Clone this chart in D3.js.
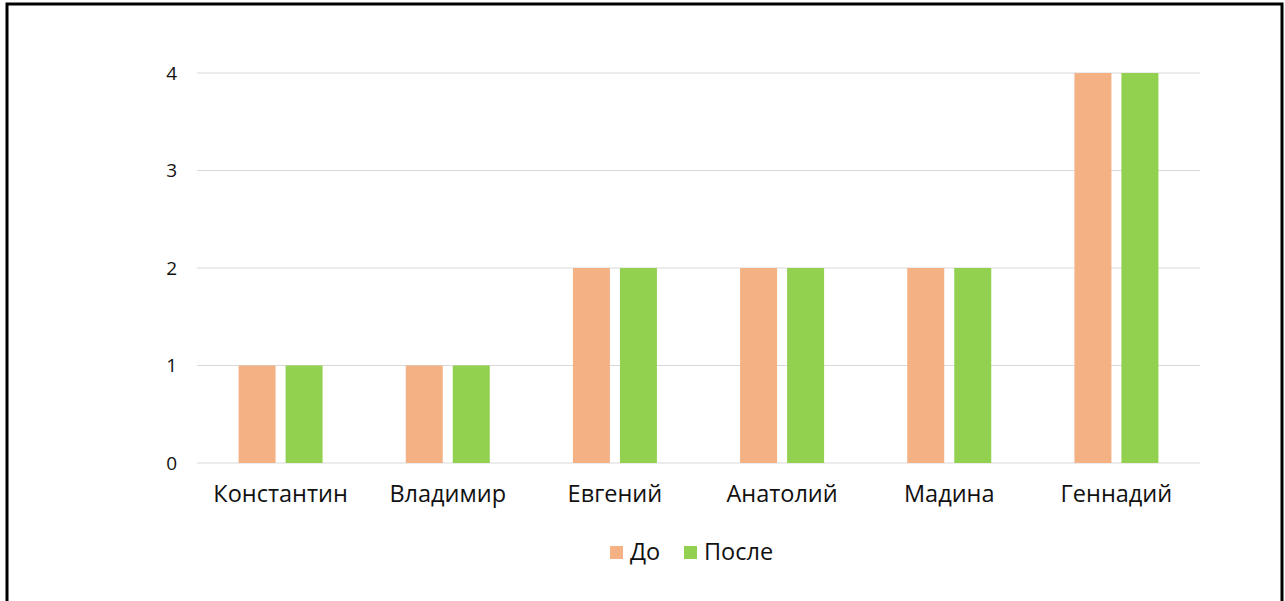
<!DOCTYPE html>
<html>
<head>
<meta charset="utf-8">
<script src="https://cdn.jsdelivr.net/npm/d3@7"></script>
<style>
  body { margin: 0; background: #fff; }
  text { font-family: "Open Sans", "Noto Sans", sans-serif; fill: #111; }
</style>
</head>
<body>
<svg id="chart" width="1285" height="601"></svg>
<script>
// data
var categories = ['Константин', 'Владимир', 'Евгений', 'Анатолий', 'Мадина', 'Геннадий'];
var seriesNames = ['До', 'После'];
var before = [1, 1, 2, 2, 2, 4];
var after = [1, 1, 2, 2, 2, 4];
var yTicks = [0, 1, 2, 3, 4];
var colors = ['#F4B183', '#92D050'];

var svg = d3.select('#chart');

// outer frame (bottom edge is cut off in the picture)
svg.append('rect')
  .attr('x', 7).attr('y', 4)
  .attr('width', 1275).attr('height', 620)
  .style('fill', 'none')
  .style('stroke', '#000')
  .style('stroke-width', 3);

var margin = {top: 73, left: 197, right: 85, bottom: 138};
var w = 1285 - margin.left - margin.right;
var h = 601 - margin.top - margin.bottom;

var g = svg.append('g')
  .attr('transform', 'translate(' + margin.left + ',' + margin.top + ')');

var xScale = d3.scaleBand().domain(categories).range([0, w]);
var xInner = d3.scaleBand().domain(seriesNames).range([0, 84]).paddingInner(0.213);
var yScale = d3.scaleLinear().domain([0, 4]).range([h, 0]);

// gridlines
g.selectAll('.grid').data(yTicks).enter().append('line')
  .attr('x1', 0).attr('x2', w)
  .attr('y1', function(d) { return yScale(d); })
  .attr('y2', function(d) { return yScale(d); })
  .style('stroke', '#d9d9d9')
  .style('stroke-width', 1);

// y axis labels
var yAxis = d3.axisLeft(yScale).tickValues(yTicks).tickFormat(d3.format('d'))
  .tickSize(0).tickPadding(20);
var yG = g.append('g').call(yAxis);
yG.select('.domain').remove();
yG.selectAll('text')
  .style('font-family', '"Open Sans", sans-serif')
  .style('font-size', '19px').style('fill', '#111');

// x axis labels
var xAxis = d3.axisBottom(xScale).tickSize(0).tickPadding(22);
var xG = g.append('g').attr('transform', 'translate(0,' + h + ')').call(xAxis);
xG.select('.domain').remove();
xG.selectAll('text')
  .style('font-family', '"Open Sans", sans-serif')
  .style('font-size', '23.5px').style('fill', '#111');

// bars
var rows = categories.map(function(c, i) {
  return {cat: c, values: [before[i], after[i]]};
});
var groups = g.selectAll('.grp').data(rows).enter().append('g')
  .attr('transform', function(d) {
    return 'translate(' + (xScale(d.cat) + xScale.bandwidth() / 2 - 42) + ',0)';
  });
groups.selectAll('rect').data(function(d) { return d.values; }).enter().append('rect')
  .attr('x', function(d, i) { return xInner(seriesNames[i]); })
  .attr('width', xInner.bandwidth())
  .attr('y', function(d) { return yScale(d); })
  .attr('height', function(d) { return h - yScale(d); })
  .style('fill', function(d, i) { return colors[i]; });

// legend
var legendX = [610, 684];
var legend = svg.append('g');
seriesNames.forEach(function(name, i) {
  legend.append('rect')
    .attr('x', legendX[i]).attr('y', 546)
    .attr('width', 13).attr('height', 13)
    .style('fill', colors[i]);
  legend.append('text')
    .attr('x', legendX[i] + 20).attr('y', 560)
    .style('font-size', '23.5px')
    .text(name);
});
</script>
</body>
</html>
